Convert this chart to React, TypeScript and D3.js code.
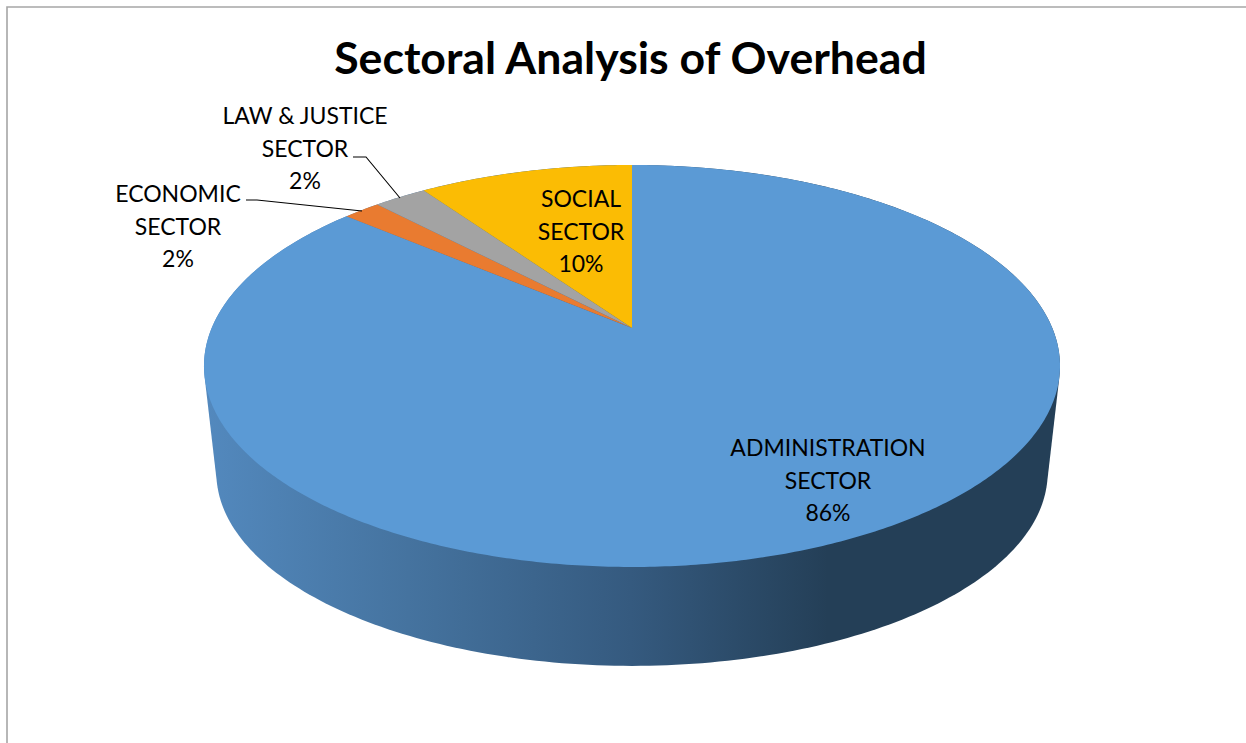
import React from 'react';
import * as d3 from 'd3';

// Sample data, clockwise from 12 o'clock
const categories = [
  ['ADMINISTRATION', 'SECTOR'],
  ['ECONOMIC', 'SECTOR'],
  ['LAW & JUSTICE', 'SECTOR'],
  ['SOCIAL', 'SECTOR'],
];
const shares = [86.2, 1.7, 2.4, 9.7];
const shareLabels = ['86%', '2%', '2%', '10%'];
const colors = ['#5B9AD5', '#E97B30', '#A3A3A3', '#FBBC04'];

const width = 1246;
const height = 743;

// perspective of the tilted disc, fitted to the picture
const apexX = 632;
const apexY = 328;
const spreadX = 420.3;
const spreadY = 193.8;
const tilt = 0.189;

const project = (angle: number, scaleX = 1, scaleY = 1, drop = 0): [number, number] => {
  const u = Math.sin(angle);
  const v = -Math.cos(angle);
  const w = 1 - tilt * v;
  return [
    apexX + (scaleX * spreadX * u) / w,
    apexY + drop + (scaleY * spreadY * v) / w,
  ];
};

const fullTurn = d3.range(0, 360, 1).map(d => (d * Math.PI) / 180);
const sidePoints = [
  ...fullTurn.map(a => project(a)),
  ...fullTurn.map(a => project(a, 0.971, 0.96, 108.5)),
];
const sideHull = d3.polygonHull(sidePoints) as [number, number][];

const line = d3.line<[number, number]>();
const slices = d3.pie<number>().sort(null)(shares);

const slicePath = (start: number, end: number) => {
  const n = Math.max(2, Math.ceil((end - start) / 0.01));
  const rim = d3.range(n + 1).map(i => project(start + ((end - start) * i) / n));
  return line([[apexX, apexY], ...rim]) + 'Z';
};

const labelAnchors = [
  { x: 828, y: 456 },
  { x: 178, y: 202 },
  { x: 305, y: 124 },
  { x: 581, y: 207 },
];
const leaders: [number, number][][] = [
  [[246, 200], [257, 200], [362, 211]],
  [[353, 157], [366, 157], [400, 198]],
];

const App: React.FC = () => {
  return (
    <svg
      width={width}
      height={height}
      style={{ position: 'absolute', left: 0, top: 0, background: '#fff' }}
      fontFamily="Lato, sans-serif"
    >
      <defs>
        <linearGradient id="side" gradientUnits="userSpaceOnUse" x1={203} x2={1059} y1={0} y2={0}>
          <stop offset="0" stopColor="#5389BE" />
          <stop offset="0.24" stopColor="#45739F" />
          <stop offset="0.5" stopColor="#355A7F" />
          <stop offset="0.73" stopColor="#243F57" />
          <stop offset="1" stopColor="#243F57" />
        </linearGradient>
      </defs>

      {/* frame */}
      <path d={`M7,${height} V7 H${width}`} fill="none" stroke="#A6A6A6" strokeWidth={1.6} />

      <text x={630.5} y={74} textAnchor="middle" fontSize={44.6} fontWeight={700} fill="#000">
        Sectoral Analysis of Overhead
      </text>

      <path d={line(sideHull) + 'Z'} fill="url(#side)" />

      {slices.map((s, i) => (
        <path key={i} d={slicePath(s.startAngle, s.endAngle)} fill={colors[i]} />
      ))}

      {leaders.map((pts, i) => (
        <path key={i} d={line(pts) as string} fill="none" stroke="#000" strokeWidth={1.1} />
      ))}

      {categories.map((lines, i) => (
        <text key={i} textAnchor="middle" fontSize={23} fill="#000">
          {[...lines, shareLabels[i]].map((t, j) => (
            <tspan key={j} x={labelAnchors[i].x} y={labelAnchors[i].y + j * 32.7}>
              {t}
            </tspan>
          ))}
        </text>
      ))}
    </svg>
  );
};

export default App;
